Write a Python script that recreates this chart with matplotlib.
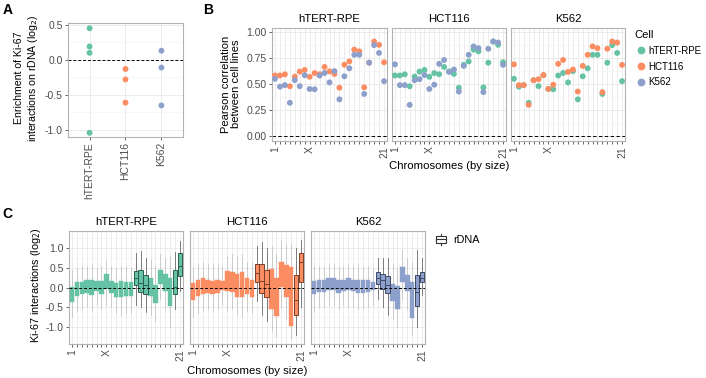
import matplotlib.pyplot as plt
from matplotlib.lines import Line2D
from matplotlib.patches import Rectangle
from matplotlib.legend_handler import HandlerBase

plt.rcParams["font.family"] = ["Liberation Sans", "DejaVu Sans"]
plt.rcParams["axes.unicode_minus"] = False

W, H = 706, 378

# --- data ---------------------------------------------------------------
cells = ["hTERT-RPE", "HCT116", "K562"]
colors = {"hTERT-RPE": "#66C2A5", "HCT116": "#FC8D62", "K562": "#8DA0CB"}
dark = {"hTERT-RPE": "#2E5E50", "HCT116": "#7A3F28", "K562": "#3E4A66"}

# A: rDNA enrichment, one value per replicate
enrich = {
    "hTERT-RPE": [0.45, 0.19, 0.10, -1.04],
    "HCT116": [-0.13, -0.28, -0.61],
    "K562": [0.13, -0.11, -0.65],
}

# chromosomes ordered by size
chroms = ["1", "2", "3", "4", "5", "6", "7", "X", "8", "9", "11", "10",
          "12", "13", "14", "15", "16", "17", "18", "20", "19", "22", "21"]
rdna_chroms = ["13", "14", "15", "22", "21"]
shown_labels = ["1", "X", "21"]

# B: per-chromosome Pearson correlation between pairs of cell lines
cor_rpe_hct = [0.583, 0.583, 0.594, 0.479, 0.572, 0.620, 0.636, 0.570, 0.606, 0.595, 0.665, 0.622,
               0.598, 0.465, 0.686, 0.718, 0.832, 0.815, 0.468, 0.706, 0.910, 0.878, 0.710]
cor_rpe_k562 = [0.551, 0.475, 0.490, 0.320, 0.538, 0.480, 0.585, 0.453, 0.450, 0.582, 0.607, 0.516,
                0.625, 0.353, 0.575, 0.652, 0.782, 0.782, 0.405, 0.706, 0.875, 0.800, 0.528]
cor_hct_k562 = [0.690, 0.490, 0.490, 0.300, 0.537, 0.547, 0.587, 0.453, 0.494, 0.695, 0.732, 0.617,
                0.640, 0.428, 0.675, 0.782, 0.863, 0.846, 0.422, 0.840, 0.910, 0.900, 0.685]

# C: Ki-67 interactions per chromosome (box stats: q1, median, q3, whisker low, whisker high)
rpe_q1 = [-0.36, -0.22, -0.17, -0.13, -0.19, -0.09, -0.17, -0.03, -0.13, -0.25, -0.25, -0.22,
          -0.22, 0.06, -0.11, -0.17, -0.22, -0.39, 0.08, -0.09, -0.47, -0.17, 0.29]
rpe_med = [-0.10, -0.02, 0.00, 0.03, 0.00, 0.05, 0.00, 0.15, 0.03, -0.05, -0.03, -0.03,
           -0.03, 0.24, 0.12, 0.06, 0.02, -0.15, 0.25, 0.12, -0.10, 0.02, 0.54]
rpe_q3 = [0.02, 0.13, 0.14, 0.18, 0.20, 0.16, 0.17, 0.35, 0.17, 0.12, 0.17, 0.14,
          0.13, 0.42, 0.45, 0.31, 0.25, 0.06, 0.44, 0.34, 0.25, 0.45, 0.88]
rpe_lo = [-0.75, -0.60, -0.55, -0.50, -0.60, -0.45, -0.55, -0.45, -0.50, -0.65, -0.70, -0.65,
          -0.65, -0.45, -0.50, -0.62, -0.70, -0.85, -0.30, -0.55, -1.00, -0.55, -0.10]
rpe_hi = [0.45, 0.50, 0.55, 0.55, 0.60, 0.50, 0.55, 0.70, 0.55, 0.50, 0.55, 0.55,
          0.50, 0.87, 0.93, 0.75, 0.70, 0.55, 0.85, 0.75, 0.80, 0.90, 1.18]

hct_q1 = [-0.32, -0.22, -0.17, -0.13, -0.17, -0.13, -0.07, -0.08, -0.11, -0.24, -0.25, -0.17,
          -0.24, 0.13, -0.13, -0.25, -0.55, -0.72, 0.02, -0.24, -0.97, -0.70, 0.13]
hct_med = [-0.05, 0.00, 0.03, 0.03, 0.00, 0.02, 0.05, 0.18, 0.15, 0.05, 0.08, 0.03,
           0.00, 0.37, 0.16, 0.10, -0.05, -0.25, 0.35, 0.15, -0.30, -0.32, 0.65]
hct_q3 = [0.12, 0.18, 0.23, 0.20, 0.17, 0.18, 0.17, 0.41, 0.39, 0.34, 0.39, 0.23,
          0.20, 0.59, 0.60, 0.44, 0.48, 0.25, 0.65, 0.58, 0.52, 0.31, 0.88]
hct_lo = [-0.75, -0.65, -0.60, -0.55, -0.60, -0.55, -0.45, -0.60, -0.55, -0.70, -0.75, -0.60,
          -0.65, -0.35, -0.70, -0.85, -1.10, -1.25, -0.50, -0.80, -1.30, -1.20, -0.50]
hct_hi = [0.50, 0.60, 0.65, 0.60, 0.60, 0.60, 0.55, 0.80, 0.85, 0.80, 0.85, 0.65,
          0.65, 1.05, 1.15, 1.00, 1.05, 0.85, 1.20, 1.10, 1.10, 1.00, 1.20]

k562_q1 = [-0.17, -0.11, -0.11, -0.07, -0.07, -0.13, -0.08, -0.07, -0.08, -0.13, -0.13, -0.11,
           -0.07, 0.10, -0.03, -0.15, -0.34, -0.55, 0.14, -0.08, -0.76, -0.47, 0.14]
k562_med = [0.00, 0.03, 0.03, 0.08, 0.08, 0.02, 0.05, 0.08, 0.06, 0.03, 0.02, 0.03,
            0.03, 0.25, 0.18, 0.06, -0.10, -0.25, 0.35, 0.12, -0.30, -0.11, 0.25]
k562_q3 = [0.17, 0.18, 0.18, 0.23, 0.23, 0.18, 0.18, 0.24, 0.20, 0.20, 0.18, 0.18,
           0.14, 0.38, 0.34, 0.29, 0.10, 0.03, 0.52, 0.31, 0.14, 0.31, 0.39]
k562_lo = [-0.60, -0.50, -0.50, -0.45, -0.45, -0.55, -0.45, -0.50, -0.50, -0.55, -0.55, -0.50,
           -0.45, -0.30, -0.50, -0.70, -0.80, -1.00, -0.30, -0.55, -1.20, -1.00, -0.20]
k562_hi = [0.55, 0.55, 0.55, 0.60, 0.60, 0.55, 0.55, 0.60, 0.55, 0.60, 0.55, 0.55,
           0.50, 0.75, 0.75, 0.75, 0.60, 0.50, 0.95, 0.75, 0.65, 0.95, 0.75]

box_data = {
    "hTERT-RPE": (rpe_q1, rpe_med, rpe_q3, rpe_lo, rpe_hi),
    "HCT116": (hct_q1, hct_med, hct_q3, hct_lo, hct_hi),
    "K562": (k562_q1, k562_med, k562_q3, k562_lo, k562_hi),
}

# --- helpers ------------------------------------------------------------
fig = plt.figure(figsize=(W / 100, H / 100), dpi=100)


def px_axes(x0, y0, x1, y1):
    return fig.add_axes([x0 / W, 1 - y1 / H, (x1 - x0) / W, (y1 - y0) / H])


def style(ax):
    ax.set_facecolor("white")
    for s in ax.spines.values():
        s.set_color("#B3B3B3")
        s.set_linewidth(0.8)
    ax.tick_params(which="major", color="#4D4D4D", labelcolor="#4D4D4D",
                   labelsize=7.5, length=2.2, width=0.6, pad=1.5)
    ax.tick_params(which="minor", length=0)
    ax.grid(which="major", color="#E4E4E4", lw=0.5)
    ax.grid(which="minor", color="#F1F1F1", lw=0.4)
    ax.set_axisbelow(True)


def chrom_xaxis(ax):
    pos = list(range(1, len(chroms) + 1))
    ax.set_xticks(pos)
    ax.set_xticklabels([c if c in shown_labels else "" for c in chroms],
                       rotation=90, va="top", ha="center")
    ax.set_xlim(0.4, len(chroms) + 0.6)
    ax.grid(which="minor", axis="x", visible=False)


# --- A ------------------------------------------------------------------
axA = px_axes(68, 23, 183, 137)
style(axA)
for i, c in enumerate(cells):
    axA.scatter([i + 1] * len(enrich[c]), enrich[c], s=18, color=colors[c],
                edgecolor="none", zorder=3)
axA.axhline(0, color="black", ls=(0, (3, 2)), lw=0.7, zorder=2)
axA.set_xlim(0.4, 3.6)
axA.set_ylim(-1.1, 0.525)
axA.set_xticks([1, 2, 3])
axA.set_xticklabels(cells, rotation=90, va="top", ha="center")
axA.set_yticks([-1.0, -0.5, 0.0, 0.5])
axA.set_yticklabels(["-1.0", "-0.5", "0.0", "0.5"])
axA.set_yticks([-0.75, -0.25, 0.25], minor=True)
axA.set_xticks([], minor=True)

fig.text(27 / W, 1 - 78 / H, "Enrichment of Ki-67\ninteractions on rDNA (log$_2$)",
         rotation=90, ha="center", va="center", fontsize=7.6, linespacing=1.1)

# --- B ------------------------------------------------------------------
pairs = {
    "hTERT-RPE": [("HCT116", cor_rpe_hct), ("K562", cor_rpe_k562)],
    "HCT116": [("hTERT-RPE", cor_rpe_hct), ("K562", cor_hct_k562)],
    "K562": [("hTERT-RPE", cor_rpe_k562), ("HCT116", cor_hct_k562)],
}
B_x = [(272, 387), (392, 506), (511, 625)]
xpos = list(range(1, len(chroms) + 1))
for k, c in enumerate(cells):
    ax = px_axes(B_x[k][0], 28, B_x[k][1], 141)
    style(ax)
    for other, vals in pairs[c]:
        ax.scatter(xpos, vals, s=18, color=colors[other], edgecolor="none", zorder=3)
    ax.axhline(0, color="black", ls=(0, (3.5, 2.5)), lw=0.7, zorder=2)
    chrom_xaxis(ax)
    ax.set_ylim(-0.048, 1.04)
    ax.set_yticks([0, 0.25, 0.5, 0.75, 1.0])
    ax.set_yticks([0.125, 0.375, 0.625, 0.875], minor=True)
    if k == 0:
        ax.set_yticklabels(["0.00", "0.25", "0.50", "0.75", "1.00"])
    else:
        ax.set_yticklabels([])
        ax.tick_params(axis="y", length=0)
    ax.set_title(c, fontsize=8.2, pad=4)

fig.text(231 / W, 1 - 84 / H, "Pearson correlation\nbetween cell lines",
         rotation=90, ha="center", va="center", fontsize=8, linespacing=1.1)
fig.text(449 / W, 1 - 166 / H, "Chromosomes (by size)", ha="center", va="center", fontsize=8.2)

handles = [Line2D([], [], marker="o", ls="none", color=colors[c], markersize=4.6) for c in cells]
legB = fig.legend(handles, cells, loc="upper left", bbox_to_anchor=(630 / W, 1 - 25 / H),
                  frameon=False, title="Cell", fontsize=7, title_fontsize=8,
                  handletextpad=0.1, labelspacing=0.6, borderpad=0, handlelength=1.3)
legB._legend_box.align = "left"

# --- C ------------------------------------------------------------------
C_x = [(69, 183), (190, 304), (311, 425)]
for k, c in enumerate(cells):
    ax = px_axes(C_x[k][0], 231, C_x[k][1], 344)
    style(ax)
    q1, med, q3, lo, hi = box_data[c]
    normal, rdna = [], []
    for i, ch in enumerate(chroms):
        st = {"q1": q1[i], "med": med[i], "q3": q3[i], "whislo": lo[i], "whishi": hi[i],
              "fliers": [], "label": ch}
        (rdna if ch in rdna_chroms else normal).append((i + 1, st))
    ax.bxp([s for _, s in normal], positions=[p for p, _ in normal], widths=0.92,
           patch_artist=True, showfliers=False, showcaps=False,
           boxprops=dict(facecolor=colors[c], edgecolor=colors[c], lw=0.3, zorder=3),
           medianprops=dict(color=colors[c], lw=0.3, zorder=3),
           whiskerprops=dict(color="#BDBDBD", lw=0.5, zorder=2))
    ax.bxp([s for _, s in rdna], positions=[p for p, _ in rdna], widths=0.92,
           patch_artist=True, showfliers=False, showcaps=False,
           boxprops=dict(facecolor=colors[c], edgecolor=dark[c], lw=0.7, zorder=4),
           medianprops=dict(color=dark[c], lw=0.7, zorder=4),
           whiskerprops=dict(color="#6A6A6A", lw=0.6, zorder=2))
    ax.axhline(0, color="black", ls=(0, (3, 2)), lw=0.7, zorder=5)
    chrom_xaxis(ax)
    ax.set_ylim(-1.43, 1.43)
    ax.set_yticks([-1.0, -0.5, 0.0, 0.5, 1.0])
    ax.set_yticks([-1.25, -0.75, -0.25, 0.25, 0.75, 1.25], minor=True)
    if k == 0:
        ax.set_yticklabels(["-1.0", "-0.5", "0.0", "0.5", "1.0"])
    else:
        ax.set_yticklabels([])
        ax.tick_params(axis="y", length=0)
    ax.set_title(c, fontsize=8.2, pad=4)

fig.text(36 / W, 1 - 285 / H, "Ki-67 interactions (log$_2$)",
         rotation=90, ha="center", va="center", fontsize=7.8)
fig.text(247 / W, 1 - 371 / H, "Chromosomes (by size)", ha="center", va="center", fontsize=8.2)


class BoxKey(HandlerBase):
    def create_artists(self, legend, orig_handle, xdescent, ydescent, width, height,
                       fontsize, trans):
        x0, y0 = -xdescent, -ydescent
        w, h = width, height
        cx, cy = x0 + w / 2, y0 + h / 2
        bw, bh = w * 0.9, h * 0.75
        rect = Rectangle((cx - bw / 2, cy - bh / 2), bw, bh, facecolor="white",
                         edgecolor="#333333", lw=0.8, transform=trans)
        mid = Line2D([cx - bw / 2, cx + bw / 2], [cy, cy], color="#333333", lw=0.8,
                     transform=trans)
        top = Line2D([cx, cx], [cy + bh / 2, cy + bh / 2 + h * 0.2],
                     color="#333333", lw=0.8, transform=trans)
        bot = Line2D([cx, cx], [cy - bh / 2, cy - bh / 2 - h * 0.2],
                     color="#333333", lw=0.8, transform=trans)
        return [rect, mid, top, bot]


fig.legend([Rectangle((0, 0), 1, 1)], ["rDNA"], handler_map={Rectangle: BoxKey()},
           loc="center left", bbox_to_anchor=(430 / W, 1 - 240 / H), frameon=False,
           fontsize=7.8, handlelength=1.0, handleheight=0.9, handletextpad=0.6, borderpad=0)

# --- panel letters ------------------------------------------------------
fig.text(3 / W, 1 - 3 / H, "A", fontsize=10, fontweight="bold", va="top", ha="left")
fig.text(203 / W, 1 - 3 / H, "B", fontsize=10, fontweight="bold", va="top", ha="left")
fig.text(2 / W, 1 - 207 / H, "C", fontsize=10, fontweight="bold", va="top", ha="left")

fig.savefig("out.png", dpi=100)
